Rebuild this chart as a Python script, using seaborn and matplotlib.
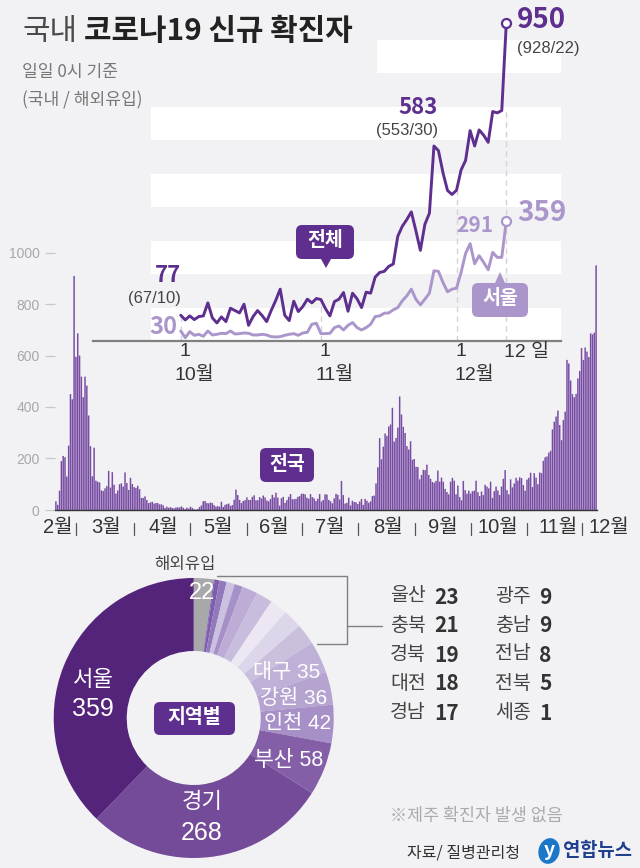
"""
국내 코로나19 신규 확진자 - 일별 막대, 최근 추이 선, 지역별 도넛
"""

import pandas as pd
import seaborn as sns
import matplotlib.pyplot as plt
from matplotlib.patches import Ellipse, FancyBboxPatch, Polygon

W, H = 640, 868

BG = "#f2f2f5"
DARK = "#5e2f8e"
LIGHT = "#ab96cc"
BAR = "#784ca3"
SANS = ["Liberation Sans", "Noto Sans CJK KR", "DejaVu Sans"]
KR = ["Noto Sans CJK KR", "DejaVu Sans"]

# 일별 확진자 (2/19 ~ 12/12)
feb = [34, 20, 75, 190, 210, 205, 130, 250, 450, 430, 909]
mar = [595, 686, 600, 518, 438, 518, 483, 367, 248, 131, 242, 114, 110, 107, 76, 74,
       84, 93, 152, 87, 147, 98, 64, 76, 100, 104, 91, 146, 105, 78, 125]
apr = [101, 89, 86, 94, 81, 47, 47, 53, 39, 27, 30, 32, 25, 27, 27, 22, 22, 18, 8, 13,
       9, 11, 8, 6, 10, 10, 10, 14, 9, 4]
may = [9, 6, 13, 8, 3, 2, 4, 12, 18, 34, 35, 27, 26, 29, 27, 19, 13, 15, 13, 32, 12,
       20, 23, 25, 16, 19, 40, 79, 58, 39, 27]
jun = [35, 38, 49, 39, 39, 51, 57, 38, 38, 50, 45, 56, 49, 37, 34, 43, 59, 49, 67, 48,
       17, 46, 51, 28, 39, 51, 62, 42, 42, 43]
jul = [51, 54, 63, 63, 61, 48, 44, 62, 50, 45, 35, 44, 62, 33, 39, 61, 60, 39, 34, 26,
       45, 63, 59, 41, 113, 58, 25, 28, 48, 18, 36]
aug = [31, 30, 23, 33, 43, 20, 43, 36, 28, 34, 54, 56, 103, 166, 279, 197, 246, 297,
       288, 324, 332, 397, 266, 280, 320, 441, 371, 323, 299, 248, 235]
sep = [267, 195, 198, 168, 167, 119, 136, 156, 155, 176, 136, 121, 109, 106, 113, 153,
       110, 126, 110, 82, 70, 61, 110, 125, 114, 61, 95, 50, 38, 113]
oct_ = [77, 63, 75, 64, 73, 75, 114, 69, 54, 72, 58, 98, 91, 84, 110, 47, 73, 91, 76,
        58, 91, 121, 155, 77, 61, 119, 88, 103, 125, 114, 127]
nov = [124, 97, 75, 118, 125, 145, 89, 143, 126, 100, 146, 143, 191, 205, 208, 223,
       230, 313, 343, 363, 386, 330, 271, 349, 382, 583, 569, 503, 450, 438]
dec = [451, 511, 540, 629, 583, 631, 615, 594, 686, 682, 689, 950]

# 서울 (10/1 ~ 12/12)
seoul = [30, 10, 28, 17, 20, 14, 30, 18, 20, 23, 22, 30, 21, 22, 24, 23, 18, 18, 20,
         18, 13, 12, 13, 17, 20, 22, 17, 24, 26, 50, 53, 22, 22, 23, 40, 45, 33, 47,
         55, 40, 33, 40, 50, 73, 75, 83, 84, 93, 100, 120, 135, 155, 125, 108, 125,
         143, 210, 208, 175, 147, 155, 158, 205, 262, 291, 231, 255, 235, 213, 265,
         250, 250, 359]

# 지역별
regions = ["해외유입", "세종", "전북", "전남", "충남", "광주", "경남", "대전", "경북",
           "충북", "울산", "대구", "강원", "인천", "부산", "경기", "서울"]
region_counts = [22, 1, 5, 8, 9, 9, 17, 18, 19, 21, 23, 35, 36, 42, 58, 268, 359]
region_colors = ["#a8a8ab", "#6b44a0", "#7e5cae", "#9279ba", "#cbc0df", "#a590c7",
                 "#bcacd6", "#c9bddd", "#ece7f3", "#ddd5e9", "#cabfdd", "#bfb0d8",
                 "#b5a3d0", "#a78fc8", "#845fa8", "#744b98", "#53247a"]

month_names = ["2월", "3월", "4월", "5월", "6월", "7월", "8월", "9월", "10월", "11월", "12월"]
month_label_x = [58, 106, 163, 218, 274, 330, 388, 443, 498, 558, 609]
month_tick_x = [76, 134, 190, 247, 302, 358, 415, 471, 527, 582]

small_left = [("울산", 23), ("충북", 21), ("경북", 19), ("대전", 18), ("경남", 17)]
small_right = [("광주", 9), ("충남", 9), ("전남", 8), ("전북", 5), ("세종", 1)]


def rect(left, top, right, bottom):
    return [left / W, 1 - bottom / H, (right - left) / W, (bottom - top) / H]


sns.set_theme(style="white")
plt.rcParams["font.family"] = KR

fig = plt.figure(figsize=(W / 100, H / 100), dpi=100, facecolor=BG)

# 막대: 전국
daily = feb + mar + apr + may + jun + jul + aug + sep + oct_ + nov + dec
df = pd.DataFrame({"day": range(len(daily)), "cases": daily})
ax_bar = fig.add_axes(rect(55, 252.5, 597, 510))
ax_bar.patch.set_alpha(0)
sns.barplot(data=df, x="day", y="cases", color=BAR, saturation=1, width=0.82,
            linewidth=0, ax=ax_bar)
for p in ax_bar.patches:
    p.set_snap(False)
ax_bar.set_xlim(-0.5, len(daily) - 0.5)
ax_bar.set_ylim(0, 1000)
ax_bar.set_xlabel("")
ax_bar.set_ylabel("")
ax_bar.set_xticks([])
ax_bar.set_yticks([0, 200, 400, 600, 800, 1000])
ax_bar.tick_params(axis="y", left=True, length=7, width=0.9, color="#c9c9cc", pad=4,
                   labelcolor="#a8a8aa", labelsize=10)
for t in ax_bar.get_yticklabels():
    t.set_fontfamily(SANS)
for s in ("top", "left", "right"):
    ax_bar.spines[s].set_visible(False)
ax_bar.spines["bottom"].set_color("#333333")
ax_bar.spines["bottom"].set_linewidth(1.0)

# 선: 10/1 ~ 12/12
recent = oct_ + nov + dec
df_line = pd.DataFrame({"day": list(range(len(recent))) * 2,
                        "cases": recent + seoul,
                        "area": ["전체"] * len(recent) + ["서울"] * len(seoul)})
ax_line = fig.add_axes(rect(93, 6.5, 561, 341))
ax_line.patch.set_alpha(0)
ax_line.set_xlim(-19.4, 84.1)
ax_line.set_ylim(0, 1000)
for low in (0, 200, 400, 600):
    ax_line.axhspan(low, low + 100, xmin=0.124, xmax=1, color="white", lw=0, zorder=0)
ax_line.axhspan(800, 900, xmin=0.607, xmax=1, color="white", lw=0, zorder=0)
for day, top in ((0, 77), (31, 124), (61, 451), (72, 689)):
    ax_line.plot([day, day], [0, top], color="#d4d4d8", lw=1, ls=(0, (4, 3)), zorder=1)
sns.lineplot(data=df_line, x="day", y="cases", hue="area", hue_order=["서울", "전체"],
             palette={"전체": DARK, "서울": LIGHT}, linewidth=2.1, legend=False,
             errorbar=None, ax=ax_line, zorder=3)
ax_line.plot([72], [recent[-1]], "o", ms=6.5, mfc="white", mec=DARK, mew=1.6, zorder=4)
ax_line.plot([72], [seoul[-1]], "o", ms=6.5, mfc="white", mec=LIGHT, mew=1.6, zorder=4)
ax_line.set_xlabel("")
ax_line.set_ylabel("")
ax_line.set_xticks([])
ax_line.set_yticks([])
for s in ("top", "left", "right"):
    ax_line.spines[s].set_visible(False)
ax_line.spines["bottom"].set_color("#808080")
ax_line.spines["bottom"].set_linewidth(1.6)

# 도넛: 지역별
ax_pie = fig.add_axes(rect(193.7 - 140, 718 - 140, 193.7 + 140, 718 + 140))
ax_pie.pie(region_counts, colors=region_colors, startangle=90, counterclock=False,
           radius=1.0, wedgeprops={"width": 1 - 67 / 140, "linewidth": 0})
ax_pie.set_xlim(-1, 1)
ax_pie.set_ylim(-1, 1)

# 글자, 말풍선은 픽셀 좌표로
over = fig.add_axes([0, 0, 1, 1], zorder=5)
over.set_xlim(0, W)
over.set_ylim(H, 0)
over.axis("off")


def label(x, y, s, size, color="#333333", ha="center", weight="normal", family=SANS):
    over.text(x, y, s, fontsize=size, color=color, ha=ha, va="center", weight=weight,
              family=family)


def bubble(left, top, right, bottom, color, text, tip=None, size=14):
    over.add_patch(FancyBboxPatch((left + 5, top + 5), right - left - 10, bottom - top - 10,
                                  boxstyle="round,pad=5,rounding_size=6", fc=color, ec="none"))
    if tip is not None:
        base = bottom if tip[1] > bottom else top
        over.add_patch(Polygon([(tip[0] - 5, base), (tip[0] + 5, base), tip], fc=color, ec="none"))
    label((left + right) / 2, (top + bottom) / 2 - 1, text, size, "white", weight="bold", family=KR)


# 제목
label(22, 31, "국내", 21.5, "#4a4a4a", "left", family=KR)
label(84, 31, "코로나19 신규 확진자", 21.5, "#222222", "left", "bold", family=KR)
label(22, 72, "일일 0시 기준", 12.3, "#777777", "left", family=KR)
label(22, 100, "(국내 / 해외유입)", 12.3, "#777777", "left", family=KR)

# 선 그래프 숫자
label(517, 20, "950", 20, DARK, "left", "bold", family=KR)
label(517, 48, "(928/22)", 12, "#444444", "left")
label(438, 107, "583", 16, DARK, "right", "bold", family=KR)
label(438, 130, "(553/30)", 12, "#444444", "right")
label(181, 276, "77", 16, DARK, "right", "bold", family=KR)
label(181, 298, "(67/10)", 12, "#444444", "right")
label(177, 327, "30", 17, LIGHT, "right", "bold", family=KR)
label(493, 225, "291", 15, LIGHT, "right", "bold", family=KR)
label(517, 213, "359", 20, LIGHT, "left", "bold", family=KR)
bubble(296, 225, 354, 259, DARK, "전체", tip=(326, 268))
bubble(472, 283, 528, 317, LIGHT, "서울", tip=(500, 272))

for x, s in ((185, "1"), (325, "1"), (461, "1")):
    label(x, 352, s, 14)
for x, s in ((194, "10월"), (335, "11월"), (474, "12월")):
    label(x, 375, s, 14)
label(527, 352, "12 일", 14)

# 막대 그래프 월
bubble(260, 448, 314, 482, DARK, "전국")
for x, s in zip(month_label_x, month_names):
    label(x, 528, s, 14.5)
for x in month_tick_x:
    over.plot([x, x], [523, 535], color="#555555", lw=0.9)

# 도넛 글자
bubble(154, 702, 235, 735, DARK, "지역별")
label(185, 564, "해외유입", 12, "#444444", family=KR)
label(202, 593, "22", 17, "white")
label(93, 680, "서울", 16, "white")
label(93, 709, "359", 18, "white")
label(202, 803, "경기", 16, "white")
label(202, 833, "268", 18, "white")
label(289, 760, "부산 58", 15.5, "white")
label(298, 724, "인천 42", 15, "white")
label(294, 698, "강원 36", 15, "white")
label(287, 673, "대구 35", 15, "white")

# 묶음선
over.plot([217, 347, 347, 317], [576, 576, 644, 644], color="#808080", lw=1)
over.plot([347, 382], [626, 626], color="#808080", lw=1)

rows = [597, 626, 655, 684, 713]
for y, (name, n) in zip(rows, small_left):
    label(390, y, name, 14, "#444444", "left")
    label(434, y, str(n), 15, "#333333", "left", "bold", family=KR)
for y, (name, n) in zip(rows, small_right):
    label(495, y, name, 14, "#444444", "left")
    label(539, y, str(n), 15, "#333333", "left", "bold", family=KR)

label(390, 816, "※제주 확진자 발생 없음", 12.5, "#ababae", "left", family=KR)
label(407, 853, "자료/ 질병관리청", 11.5, "#333333", "left", family=KR)

# 로고
over.add_patch(Ellipse((549, 851), 21, 26, angle=15, fc="#1b78c8", ec="none"))
label(549, 851, "y", 14, "white", "center", "bold", family=KR)
label(563, 851, "연합뉴스", 13.5, "#1f3f8f", "left", "bold", family=KR)

fig.savefig("out.png", dpi=100, facecolor=BG)
plt.close(fig)
